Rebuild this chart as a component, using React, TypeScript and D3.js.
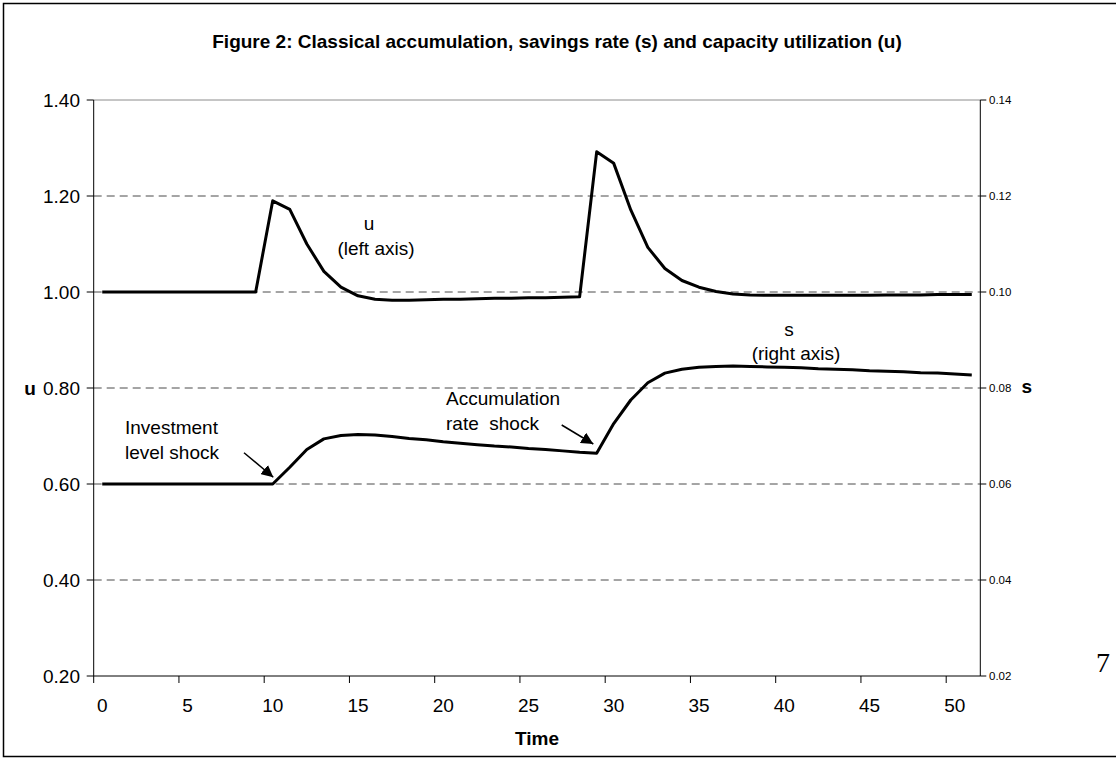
import * as d3 from "d3";

// time periods 0..51
const times: number[] = d3.range(0, 52);

// capacity utilization u (left axis)
const uValues: number[] = [
  1.0, 1.0, 1.0, 1.0, 1.0, 1.0, 1.0, 1.0, 1.0, 1.0,
  1.19, 1.172, 1.1, 1.043, 1.01, 0.992, 0.985, 0.983, 0.983, 0.984,
  0.985, 0.985, 0.986, 0.987, 0.987, 0.988, 0.988, 0.989, 0.99, 1.292,
  1.268, 1.171, 1.093, 1.049, 1.024, 1.01, 1.001, 0.996, 0.994, 0.993,
  0.993, 0.993, 0.993, 0.993, 0.993, 0.993, 0.994, 0.994, 0.994, 0.995,
  0.995, 0.995,
];

// savings rate s (right axis)
const sValues: number[] = [
  0.06, 0.06, 0.06, 0.06, 0.06, 0.06, 0.06, 0.06, 0.06, 0.06,
  0.06, 0.0635, 0.0672, 0.0694, 0.0701, 0.0703, 0.0702, 0.0699, 0.0695, 0.0692,
  0.0688, 0.0685, 0.0682, 0.0679, 0.0677, 0.0674, 0.0672, 0.0669, 0.0666, 0.0664,
  0.0726, 0.0775, 0.0811, 0.0831, 0.0839, 0.0843, 0.0845, 0.0846, 0.0845, 0.0844,
  0.0843, 0.0842, 0.084, 0.0839, 0.0838, 0.0836, 0.0835, 0.0834, 0.0832, 0.0831,
  0.0829, 0.0827,
];

const leftTicks: number[] = [0.2, 0.4, 0.6, 0.8, 1.0, 1.2, 1.4];
const rightTicks: number[] = [0.02, 0.04, 0.06, 0.08, 0.1, 0.12, 0.14];
const xTicks: number[] = [0, 5, 10, 15, 20, 25, 30, 35, 40, 45, 50];

const W = 1116;
const H = 759;
const left = 93.7;
const right = 980.3;
const top = 100;
const bottom = 676;

const font = "'Liberation Sans', Arial, sans-serif";

export default function App() {
  const x = d3.scaleBand<number>().domain(times).range([left, right]).paddingInner(0).paddingOuter(0);
  const cx = (t: number) => (x(t) as number) + x.bandwidth() / 2;
  const yL = d3.scaleLinear().domain([0.2, 1.4]).range([bottom, top]);
  const yR = d3.scaleLinear().domain([0.02, 0.14]).range([bottom, top]);

  const uLine = d3.line<number>().x((d, i) => cx(times[i])).y((d) => yL(d));
  const sLine = d3.line<number>().x((d, i) => cx(times[i])).y((d) => yR(d));

  return (
    <svg
      width={W}
      height={H}
      style={{ position: "absolute", left: 0, top: 0, display: "block", background: "#fff" }}
      fontFamily={font}
    >
      <defs>
        <marker id="ah" viewBox="0 0 10 10" refX="10" refY="5" markerWidth="12" markerHeight="12" markerUnits="userSpaceOnUse" orient="auto">
          <path d="M0,0 L10,5 L0,10 z" fill="#000" />
        </marker>
      </defs>

      {/* chart border */}
      <rect x={3.5} y={3.5} width={W + 10} height={753} fill="none" stroke="#000" strokeWidth={1.5} />

      <text x={557} y={47.5} textAnchor="middle" fontWeight="bold" fontSize={19}>
        Figure 2: Classical accumulation, savings rate (s) and capacity utilization (u)
      </text>

      {/* gridlines */}
      {leftTicks.slice(1, -1).map((v) => (
        <line key={v} x1={left} x2={right} y1={yL(v)} y2={yL(v)} stroke="#4a4a4a" strokeWidth={1} strokeDasharray="8,5" />
      ))}
      <line x1={left} x2={right} y1={top} y2={top} stroke="#8c8c8c" strokeWidth={1} />

      {/* axes */}
      <line x1={left} x2={left} y1={top} y2={bottom} stroke="#000" />
      <line x1={right} x2={right} y1={top} y2={bottom} stroke="#000" />
      <line x1={left} x2={right} y1={bottom} y2={bottom} stroke="#000" />

      {leftTicks.map((v) => (
        <g key={"l" + v}>
          <line x1={left - 7} x2={left} y1={yL(v)} y2={yL(v)} stroke="#000" />
          <text x={80} y={yL(v) + 6.5} textAnchor="end" fontSize={19}>
            {v.toFixed(2)}
          </text>
        </g>
      ))}
      {rightTicks.map((v) => (
        <g key={"r" + v}>
          <line x1={right} x2={right + 6} y1={yR(v)} y2={yR(v)} stroke="#000" />
          <text x={989} y={yR(v) + 4} fontSize={11.5}>
            {v.toFixed(2)}
          </text>
        </g>
      ))}
      {xTicks.map((t) => (
        <g key={"x" + t}>
          <line x1={x(t) as number} x2={x(t) as number} y1={bottom} y2={bottom + 7} stroke="#000" />
          <text x={cx(t)} y={712} textAnchor="middle" fontSize={19}>
            {t}
          </text>
        </g>
      ))}

      <text x={30} y={yL(0.8) + 6.5} textAnchor="middle" fontWeight="bold" fontSize={19}>u</text>
      <text x={1021.5} y={yR(0.08) + 5} fontWeight="bold" fontSize={19}>s</text>
      <text x={537} y={745} textAnchor="middle" fontWeight="bold" fontSize={19}>Time</text>

      {/* series */}
      <path d={uLine(uValues) ?? ""} fill="none" stroke="#000" strokeWidth={3} strokeLinejoin="round" />
      <path d={sLine(sValues) ?? ""} fill="none" stroke="#000" strokeWidth={3} strokeLinejoin="round" />

      {/* annotations */}
      <text fontSize={19} textAnchor="middle">
        <tspan x={369} y={230}>u</tspan>
        <tspan x={376} y={255}>(left axis)</tspan>
      </text>
      <text fontSize={19} textAnchor="middle">
        <tspan x={789} y={336}>s</tspan>
        <tspan x={796} y={360}>(right axis)</tspan>
      </text>
      <text fontSize={19}>
        <tspan x={125} y={433.5}>Investment</tspan>
        <tspan x={125} y={458.5}>level shock</tspan>
      </text>
      <text fontSize={19} xmlSpace="preserve">
        <tspan x={446} y={405}>Accumulation</tspan>
        <tspan x={446} y={430}>rate  shock</tspan>
      </text>
      <line x1={244} y1={452.7} x2={273.3} y2={477.3} stroke="#000" strokeWidth={1.5} markerEnd="url(#ah)" />
      <line x1={561.7} y1={425} x2={593.3} y2={444} stroke="#000" strokeWidth={1.5} markerEnd="url(#ah)" />

      <text x={1096} y={672} fontFamily="'Liberation Serif', 'Times New Roman', serif" fontSize={28}>7</text>
    </svg>
  );
}
